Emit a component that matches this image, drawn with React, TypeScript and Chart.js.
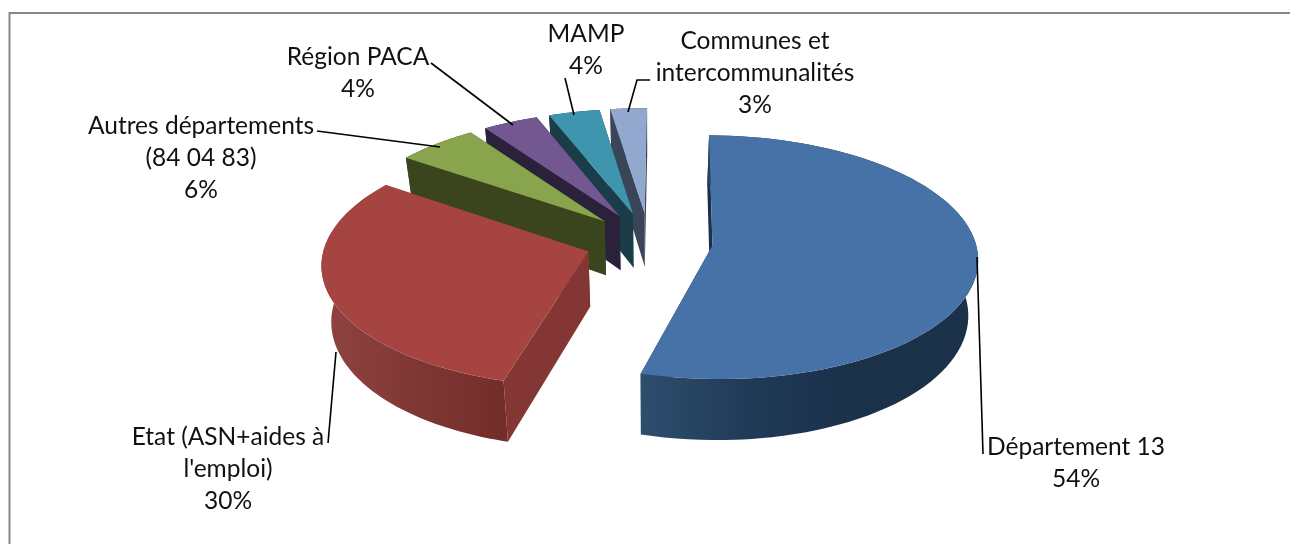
import React, { useEffect, useRef } from "react";
import { Chart, registerables } from "chart.js";

Chart.register(...registerables);

// Data
const categories = [
  "Département 13",
  "Etat (ASN+aides à l'emploi)",
  "Autres départements (84 04 83)",
  "Région PACA",
  "MAMP",
  "Communes et intercommunalités",
];
const shares = [54.2, 30.4, 5.6, 3.8, 3.5, 2.5];
const labelLines = [
  ["Département 13"],
  ["Etat (ASN+aides à", "l'emploi)"],
  ["Autres départements", "(84 04 83)"],
  ["Région PACA"],
  ["MAMP"],
  ["Communes et", "intercommunalités"],
];

// Styles
const topColors = ["#4672A7", "#A64442", "#88A44C", "#725790", "#4095AE", "#93A8CF"];
const wallColors = ["#1B3149", "#833634", "#3A451E", "#2B213A", "#1A3D49", "#3B4558"];
const rimGradients: (string[] | null)[] = [
  ["#2E4E6E", "#1F3A57", "#1B3049", "#1B3049"],
  ["#8E423F", "#7F3734", "#722C2A"],
  null, null, null, null,
];

// Label layout
const labelCenters = [1076, 228, 201, 358, 586, 755];
const labelBaselines = [455, 445, 134, 65, 42, 49];
const leaders = [
  [[977, 257], [983, 454]],
  [[336, 352], [328, 443]],
  [[317, 131], [440, 147]],
  [[431, 63], [513, 125]],
  [[565, 78], [574, 115]],
  [[650, 80], [637, 80], [628, 112]],
];

// Projection of the pie
const VIEW = { cx: 649, cy: 241.5, rx: 263, ry: 120, persp: 0.095, explode: 0.243, depth: 55, shrink: 0.97 };
const ROTATION_DEG = 0.5;
const FONT_PX = 24.5;
const LINE_H = 32;

function project(wx: number, wy: number, low: boolean): [number, number] {
  const s = 1 / (1 - VIEW.persp * wy);
  const sd = low ? VIEW.shrink : 1;
  return [
    VIEW.cx + VIEW.rx * wx * s * sd,
    VIEW.cy + VIEW.ry * wy * s + (low ? VIEW.depth * s : 0),
  ];
}

const pie3d = {
  id: "pie3d",
  beforeDatasetsDraw(chart: any) {
    const ctx: CanvasRenderingContext2D = chart.ctx;
    const arcs = chart.getDatasetMeta(0).data;
    for (let i = arcs.length - 1; i >= 0; i--) {
      const arc = arcs[i];
      const a0: number = arc.startAngle;
      const a1: number = arc.endAngle;
      const mid = (a0 + a1) / 2;
      const ox = VIEW.explode * Math.cos(mid);
      const oy = VIEW.explode * Math.sin(mid);
      const rim: [number, number][] = [];
      const steps = 80;
      for (let k = 0; k <= steps; k++) {
        const a = a0 + ((a1 - a0) * k) / steps;
        rim.push([ox + Math.cos(a), oy + Math.sin(a)]);
      }
      const poly = (pts: [number, number][], fill: any) => {
        ctx.beginPath();
        pts.forEach((p, n) => (n ? ctx.lineTo(p[0], p[1]) : ctx.moveTo(p[0], p[1])));
        ctx.closePath();
        ctx.fillStyle = fill;
        ctx.fill();
      };
      const wall = wallColors[i];
      const first = rim[0];
      const last = rim[rim.length - 1];
      // radial cut walls
      poly([project(ox, oy, false), project(first[0], first[1], false), project(first[0], first[1], true), project(ox, oy, true)], wall);
      poly([project(ox, oy, false), project(last[0], last[1], false), project(last[0], last[1], true), project(ox, oy, true)], wall);
      // outer wall
      const upper = rim.map((p) => project(p[0], p[1], false));
      const lower = rim.map((p) => project(p[0], p[1], true));
      let fill: any = wall;
      const stops = rimGradients[i];
      if (stops) {
        const xs = lower.map((p) => p[0]);
        const grad = ctx.createLinearGradient(Math.min(...xs), 0, Math.max(...xs), 0);
        stops.forEach((c, n) => grad.addColorStop(n / (stops.length - 1), c));
        fill = grad;
      }
      poly([...upper, ...lower.slice().reverse()], fill);
      // top face
      poly([project(ox, oy, false), ...upper], arc.options.backgroundColor);
    }
    return false;
  },
  afterDraw(chart: any) {
    const ctx: CanvasRenderingContext2D = chart.ctx;
    const values: number[] = chart.data.datasets[0].data;
    ctx.save();
    // frame
    ctx.strokeStyle = "#868686";
    ctx.lineWidth = 2;
    ctx.beginPath();
    ctx.moveTo(9.5, 544);
    ctx.lineTo(9.5, 13);
    ctx.lineTo(1290, 13);
    ctx.stroke();
    // leaders
    ctx.strokeStyle = "#000";
    ctx.lineWidth = 1.6;
    leaders.forEach((pts) => {
      ctx.beginPath();
      pts.forEach((p, n) => (n ? ctx.lineTo(p[0], p[1]) : ctx.moveTo(p[0], p[1])));
      ctx.stroke();
    });
    // labels
    ctx.fillStyle = "#111";
    ctx.font = `${FONT_PX}px Lato`;
    ctx.textAlign = "center";
    ctx.textBaseline = "alphabetic";
    labelLines.forEach((lines, i) => {
      const all = [...lines, `${Math.round(values[i])}%`];
      all.forEach((t, n) => {
        ctx.fillText(t, labelCenters[i], labelBaselines[i] + n * LINE_H);
      });
    });
    ctx.restore();
  },
};

export default function App() {
  const ref = useRef<HTMLCanvasElement>(null);
  useEffect(() => {
    const chart = new Chart(ref.current!, {
      type: "pie",
      data: {
        labels: categories,
        datasets: [{ data: shares, backgroundColor: topColors, borderWidth: 0 }],
      },
      options: {
        animation: false,
        responsive: false,
        rotation: ROTATION_DEG,
        plugins: { legend: { display: false }, tooltip: { enabled: false } },
      },
      plugins: [pie3d],
    } as any);
    return () => chart.destroy();
  }, []);
  return (
    <div style={{ position: "fixed", left: 0, top: 0, width: 1290, height: 544, background: "#fff" }}>
      <canvas ref={ref} width={1290} height={544} style={{ display: "block" }} />
    </div>
  );
}
